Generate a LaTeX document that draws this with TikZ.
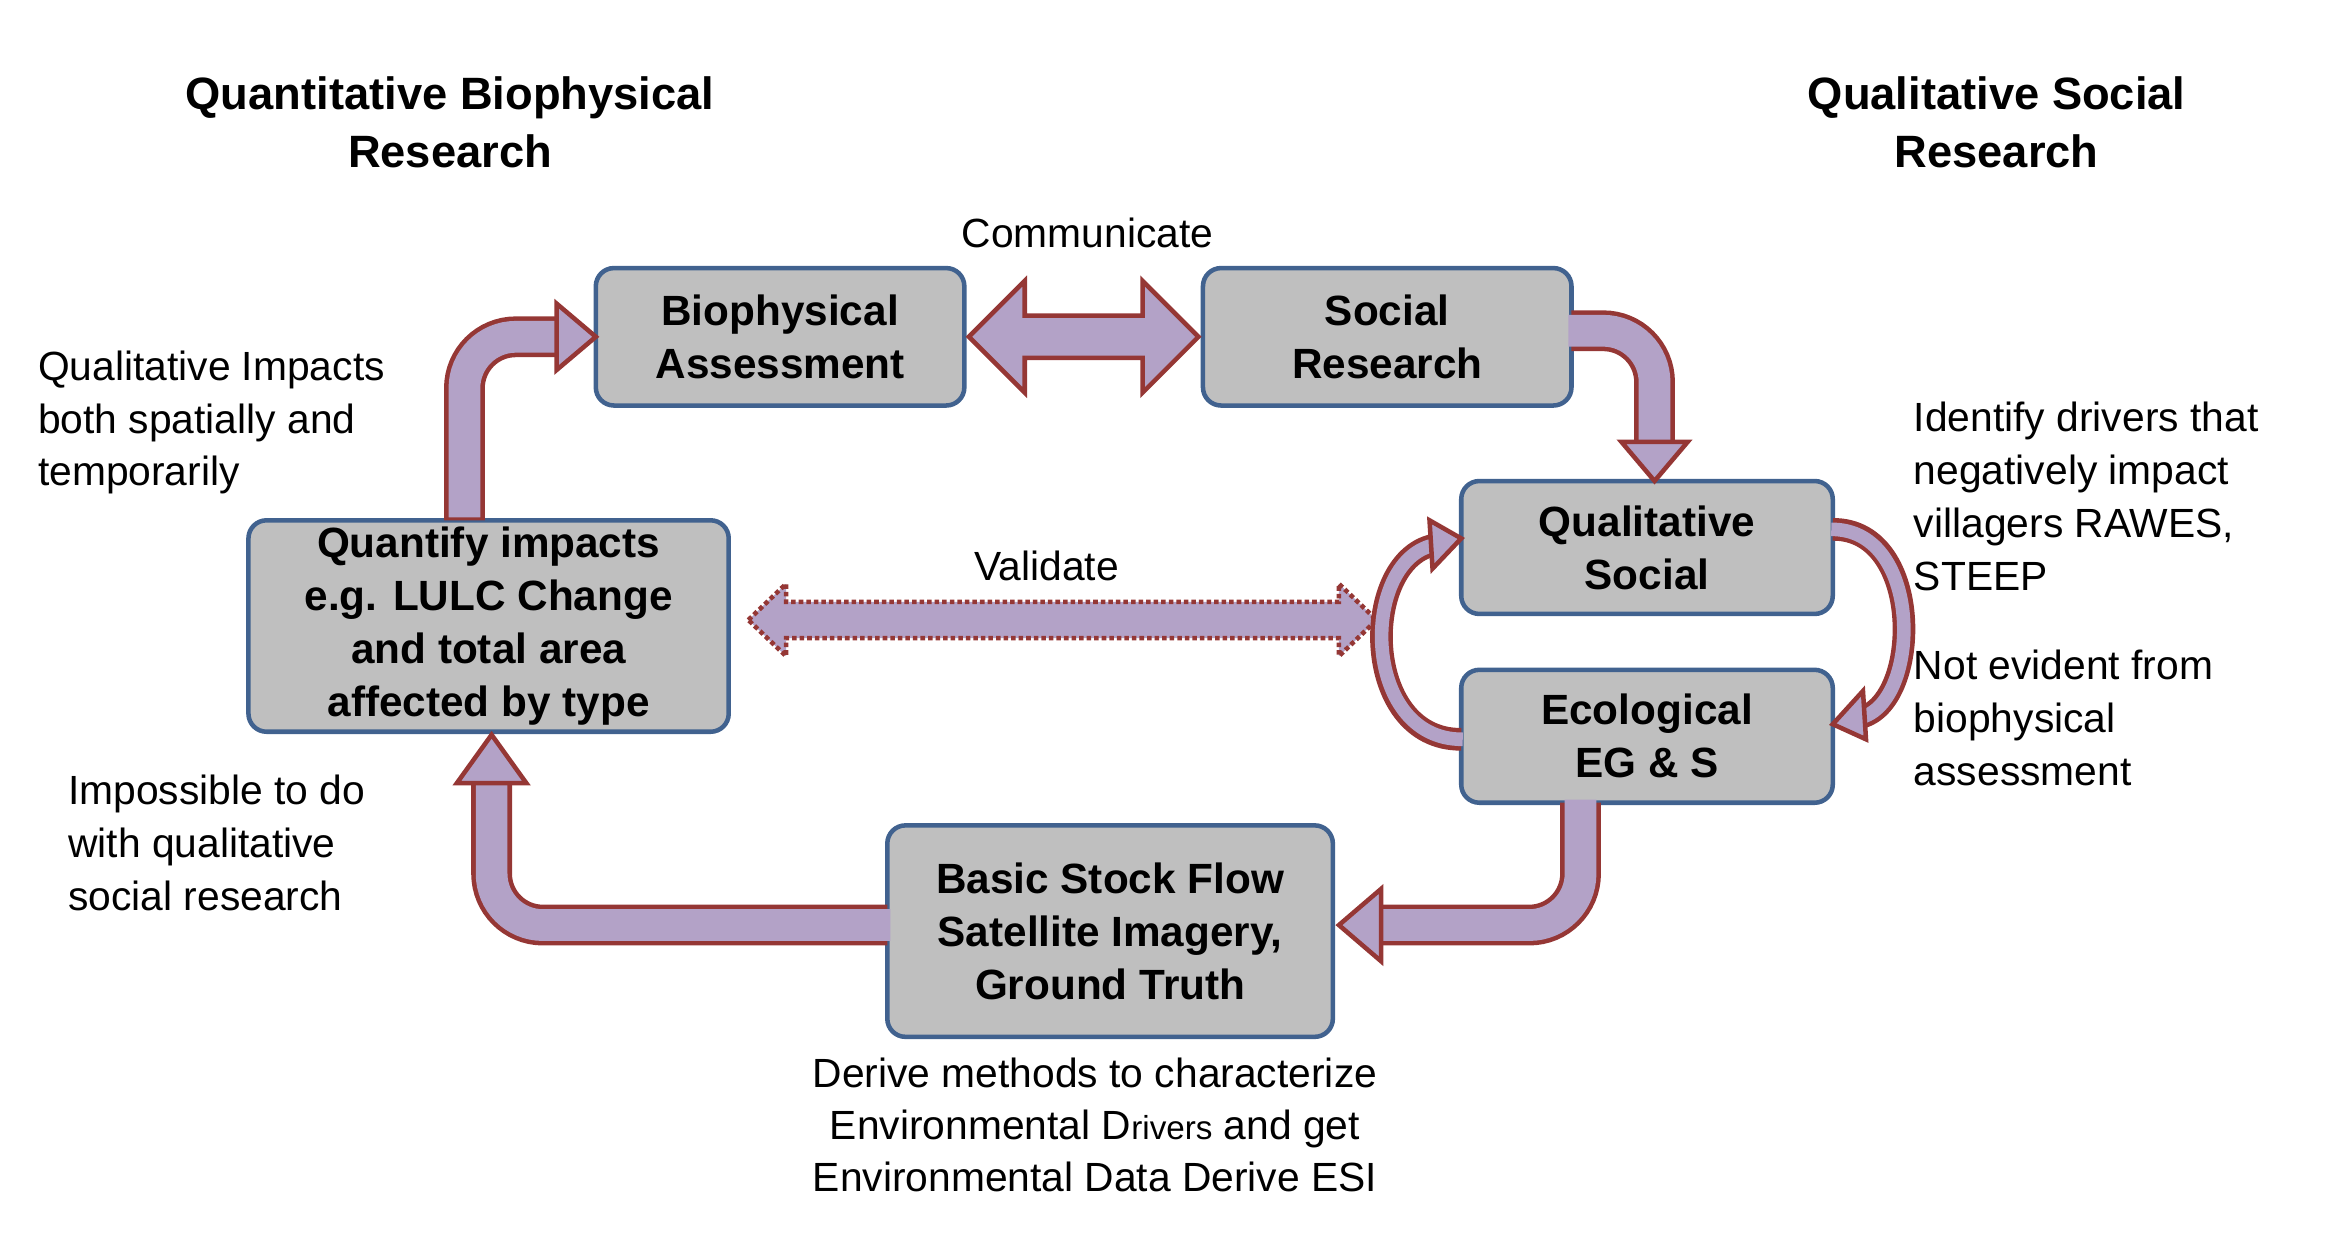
\documentclass[tikz,border=0pt]{standalone}
\usepackage{fontspec}
\setmainfont{Liberation Sans}
\usetikzlibrary{calc}
\definecolor{brd}{HTML}{953735}
\definecolor{lav}{HTML}{B3A2C7}
\definecolor{boxg}{HTML}{BFBFBF}
\definecolor{boxb}{HTML}{41628F}
\begin{document}
\begin{tikzpicture}[x=1pt,y=-1pt,
  box/.style={draw=boxb,line width=3pt,fill=boxg,rounded corners=12pt,align=center,font=\fontsize{28}{35}\selectfont\bfseries,inner sep=0pt,outer sep=0pt},
  ttl/.style={align=center,font=\fontsize{30}{38}\selectfont\bfseries},
  txt/.style={align=left,anchor=north west,font=\fontsize{27}{35}\selectfont,inner sep=0pt},
  outer/.style={draw=brd,line width=27pt,rounded corners=34pt},
  inner/.style={draw=lav,line width=21pt,rounded corners=34pt},
  head/.style={fill=lav,draw=brd,line width=3pt,line join=miter}]
\useasboundingbox (0,0) rectangle (1552,821);
% titles
\node[ttl] (t1) at (298,81) {Quantitative Biophysical\\Research};
\node[ttl] (t2) at (1322,81) {Qualitative Social\\Research};
% boxes
\node[box,minimum width=244pt,minimum height=91pt] (bio) at (516.5,223) {Biophysical\\Assessment};
\node[box,minimum width=244pt,minimum height=91pt] (soc) at (918.5,223) {Social\\Research};
\node[box,minimum width=246pt,minimum height=88pt] (qs) at (1090.5,362.5) {Qualitative\\Social};
\node[box,minimum width=246pt,minimum height=88pt] (eco) at (1090.5,487.5) {Ecological\\EG \& S};
\node[box,minimum width=318pt,minimum height=140pt] (quant) at (323.5,414.5) {Quantify impacts\\e.g. LULC Change\\and total area\\affected by type};
\node[box,minimum width=295pt,minimum height=140pt] (bsf) at (735,616.5) {Basic Stock Flow\\Satellite Imagery,\\Ground Truth};
% Quant -> Bio
\coordinate (a1) at ($(quant.north)+(-16,0)$);
\coordinate (a2) at ($(bio.west)+(-24,0)$);
\draw[outer] (a1) -- (a1 |- a2) -- (a2);
\draw[inner] ($(a1)+(0,-2)$) -- (a1 |- a2) -- ($(a2)+(2,0)$);
\draw[head] ($(a2)+(-2,-22)$) -- (bio.west) -- ($(a2)+(-2,22)$) -- cycle;
% Social -> Qual
\coordinate (b1) at ($(soc.east)+(0,-4)$);
\coordinate (b2) at ($(qs.north)+(5,-24)$);
\draw[outer] (b1) -- (b2 |- b1) -- (b2);
\draw[inner] ($(b1)+(-2,0)$) -- (b2 |- b1) -- ($(b2)+(0,2)$);
\draw[head] ($(b2)+(-22,-2)$) -- ($(qs.north)+(5,0)$) -- ($(b2)+(22,-2)$) -- cycle;
% Eco -> BSF
\coordinate (c1) at ($(eco.south)+(-44,0)$);
\coordinate (c2) at ($(bsf.east)+(30,-4)$);
\draw[outer] (c1) -- (c1 |- c2) -- (c2);
\draw[inner] ($(c1)+(0,-2)$) -- (c1 |- c2) -- ($(c2)+(-2,0)$);
\draw[head] ($(c2)+(2,-24)$) -- ($(bsf.east)+(4,-4)$) -- ($(c2)+(2,24)$) -- cycle;
% BSF -> Quant
\coordinate (d1) at ($(bsf.west)+(0,-4)$);
\coordinate (d2) at ($(quant.south)+(2,32)$);
\draw[outer] (d1) -- (d2 |- d1) -- (d2);
\draw[inner] ($(d1)+(2,0)$) -- (d2 |- d1) -- ($(d2)+(0,-2)$);
\draw[head] ($(d2)+(-23,2)$) -- ($(quant.south)+(2,2)$) -- ($(d2)+(23,2)$) -- cycle;
% Communicate double arrow
\coordinate (e1) at ($(bio.east)+(3,0)$);
\coordinate (e2) at ($(soc.west)+(-3,0)$);
\filldraw[head] (e1) -- ++(37,-37) -- ++(0,23) -- ($(e2)+(-37,-14)$) -- ++(0,-23) -- (e2) -- ++(-37,37) -- ++(0,-23) -- ($(e1)+(37,14)$) -- ++(0,23) -- cycle;
\node[font=\fontsize{27}{33}\selectfont] (com) at (720,154) {Communicate};
% Validate dotted double arrow
\coordinate (f1) at ($(quant.east)+(13,-4)$);
\coordinate (f2) at ($(qs.west |- f1)+(-56,0)$);
\filldraw[fill=lav,draw=brd,line width=3pt,dotted] (f1) -- ++(25,-24) -- ++(0,12) -- ($(f2)+(-25,-12)$) -- ++(0,-12) -- (f2) -- ++(-25,24) -- ++(0,-12) -- ($(f1)+(25,12)$) -- ++(0,12) -- cycle;
\node[font=\fontsize{27}{33}\selectfont] (val) at (693,375) {Validate};
% curved arrows right side
\coordinate (g1) at ($(qs.east)+(0,-12)$);
\coordinate (g2) at ($(eco.east)+(16,-12)$);
\draw[brd,line width=15pt] (g1) .. controls (1275,350) and (1272,470) .. (g2);
\draw[lav,line width=9pt] ($(g1)+(-1,0)$) .. controls (1275,350) and (1272,470) .. (g2);
\draw[head] ($(g2)+(4,-18)$) -- ($(eco.east)+(0,-8)$) -- ($(g2)+(6,14)$) -- cycle;
% left side
\coordinate (h1) at ($(eco.west)+(0,2)$);
\coordinate (h2) at ($(qs.west)+(-16,-2)$);
\draw[brd,line width=15pt] (h1) .. controls (900,490) and (900,368) .. (h2);
\draw[lav,line width=9pt] ($(h1)+(1,0)$) .. controls (900,490) and (900,368) .. (h2);
\draw[head] ($(h2)+(-5,-16)$) -- ($(qs.west)+(0,-6)$) -- ($(h2)+(-3,16)$) -- cycle;
% side texts
\node[txt] (l1) at (25,232) {Qualitative Impacts\\both spatially and\\temporarily};
\node[txt] (l2) at (45,513) {Impossible to do\\with qualitative\\social research};
\node[txt] (r1) at (1267,266) {Identify drivers that\\negatively impact\\villagers RAWES,\\STEEP};
\node[txt] (r2) at (1267,430) {Not evident from\\biophysical\\assessment};
\node[align=center,font=\fontsize{27}{34.5}\selectfont,anchor=north] (bt) at (725,697) {Derive methods to characterize\\Environmental D{\fontsize{22}{30}\selectfont rivers} and get\\Environmental Data Derive ESI};
\end{tikzpicture}
\end{document}
